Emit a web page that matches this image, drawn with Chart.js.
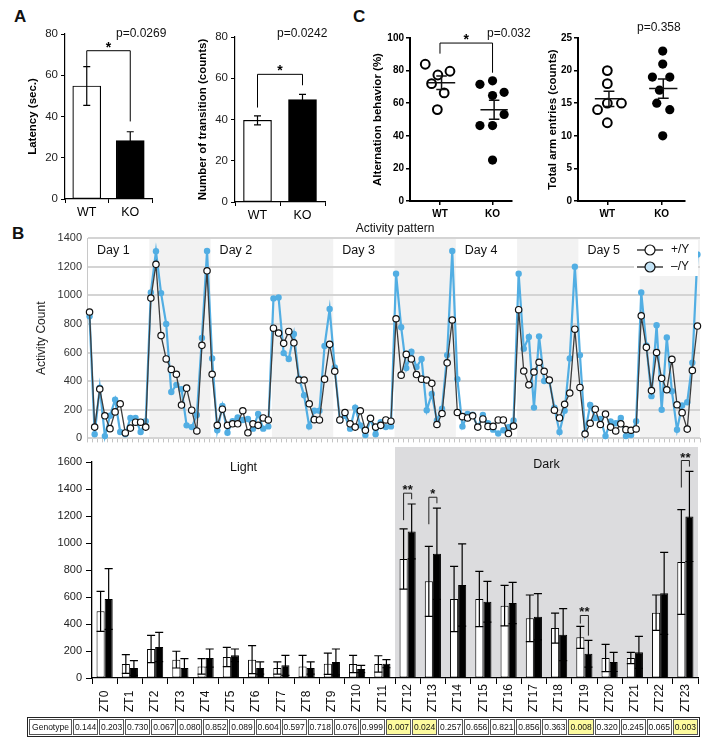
<!DOCTYPE html>
<html>
<head>
<meta charset="utf-8">
<title>Behaviour and activity pattern</title>
<script src="https://cdn.jsdelivr.net/npm/chart.js@4.4.1/dist/chart.umd.min.js"></script>
<style>
  body { margin: 0; background: #fff; }
  #fig { position: relative; width: 713px; height: 746px; overflow: hidden;
         font-family: "Liberation Sans", Arial, sans-serif; color: #111; }
  #fig canvas { position: absolute; }
  .txt { position: absolute; white-space: nowrap; line-height: 14px; }
  .panel { font-size: 17px; font-weight: bold; line-height: 20px; }
  .pval { font-size: 12px; }
  #geno { position: absolute; left: 27px; top: 717px; width: 673px; height: 20px;
          table-layout: fixed; border: 1px solid #222; border-spacing: 1px;
          font-size: 8.5px; font-family: "Liberation Sans", Arial, sans-serif; }
  #geno td { border: 1px solid #555; padding: 0; text-align: center; line-height: 14px; overflow: hidden; }
  #geno td.first { width: 41px; }
  #geno td.hi { background: #fdfb9e; }
</style>
</head>
<body>
<div id="fig">
  <div class="txt panel" style="left:14px;top:7px">A</div>
  <div class="txt panel" style="left:353px;top:7px">C</div>
  <div class="txt panel" style="left:12px;top:224px">B</div>

  <canvas id="latency" width="180" height="225" style="left:0;top:0"></canvas>
  <canvas id="transition" width="170" height="225" style="left:180px;top:0"></canvas>
  <canvas id="alternation" width="170" height="225" style="left:355px;top:0"></canvas>
  <canvas id="arms" width="188" height="225" style="left:525px;top:0"></canvas>
  <canvas id="activity" width="713" height="225" style="left:0;top:225px"></canvas>
  <canvas id="zt" width="713" height="272" style="left:0;top:447px"></canvas>

  <div class="txt pval" style="left:116px;top:26px">p=0.0269</div>
  <div class="txt pval" style="left:277px;top:26px">p=0.0242</div>
  <div class="txt pval" style="left:487px;top:26px">p=0.032</div>
  <div class="txt pval" style="left:637px;top:20px">p=0.358</div>
  <div class="txt" style="left:295px;width:200px;text-align:center;top:221px;font-size:12px">Activity pattern</div>

  <table id="geno"><tr id="genoRow"></tr></table>
</div>

<script>
// ---------- data ----------
const groups = ["WT", "KO"];

// A: latency / transitions (mean, SEM)
const latencyMean = [54.8, 28.3];
const latencyErr = [9.4, 4.3];
const transitionMean = [39.6, 49.6];
const transitionErr = [2.2, 2.6];

// C: individual animals, with horizontal jitter inside each group
const altWT = [83.9, 72.0, 77.3, 79.6, 66.3, 56.1];
const altWTJitter = [-0.28, -0.16, -0.04, 0.19, 0.08, -0.05];
const altKO = [71.6, 73.7, 66.7, 64.7, 53.1, 46.3, 46.3, 25.1];
const altKOJitter = [-0.24, 0, 0.22, 0, 0.22, -0.24, 0, 0];
const armWT = [20, 18, 14, 15, 15, 12];
const armWTJitter = [0, 0, -0.18, 0, 0.26, 0];
const armKO = [23, 21, 19, 19, 17, 15, 14, 10];
const armKOJitter = [0.02, 0.02, -0.17, 0.15, -0.04, -0.09, 0.15, 0.02];

// B top: hourly activity over 5 days
const seriesNames = ["+/Y", "\u2013/Y"];
const dayLabels = ["Day 1", "Day 2", "Day 3", "Day 4", "Day 5"];
const activityWT = [
  883, 79, 345, 158, 68, 185, 242, 38, 72, 113, 113, 79,
  980, 1216, 718, 555, 482, 448, 233, 351, 197, 52, 650, 1171,
  448, 91, 204, 91, 102, 102, 193, 39, 102, 91, 143, 129,
  770, 736, 664, 747, 668, 408, 408, 242, 131, 129, 414, 657,
  469, 129, 181, 102, 79, 193, 57, 140, 79, 91, 129, 120,
  836, 442, 587, 555, 446, 414, 408, 385, 97, 174, 528, 827,
  181, 152, 143, 158, 79, 136, 84, 84, 129, 129, 34, 86,
  899, 471, 374, 464, 532, 469, 408, 197, 143, 238, 317, 763,
  356, 30, 106, 204, 97, 170, 79, 52, 102, 61, 57, 66,
  856, 636, 334, 600, 420, 340, 552, 235, 180, 65, 475, 785
];
const activityKO = [
  854, 29, 355, 16, 158, 270, 45, 29, 142, 142, 45, 120,
  1019, 1307, 1015, 800, 324, 374, 344, 91, 79, 163, 702, 1309,
  559, 57, 226, 39, 120, 147, 129, 136, 68, 170, 68, 84,
  978, 985, 596, 555, 729, 419, 301, 84, 193, 193, 645, 904,
  495, 125, 158, 68, 215, 91, 23, 136, 29, 113, 79, 84,
  1151, 777, 491, 605, 498, 555, 197, 310, 125, 208, 582, 1309,
  414, 84, 170, 165, 79, 163, 106, 61, 34, 57, 79, 125,
  1151, 627, 709, 215, 713, 401, 401, 215, 45, 193, 559, 1200,
  582, 40, 233, 143, 136, 16, 118, 106, 143, 16, 23, 120,
  1019, 650, 295, 790, 200, 705, 330, 60, 230, 253, 528, 1285
];

// B bottom: activity per ZT hour (mean, SEM) and genotype p-values
const ztLabels = ["ZT0", "ZT1", "ZT2", "ZT3", "ZT4", "ZT5", "ZT6", "ZT7", "ZT8", "ZT9", "ZT10", "ZT11",
  "ZT12", "ZT13", "ZT14", "ZT15", "ZT16", "ZT17", "ZT18", "ZT19", "ZT20", "ZT21", "ZT22", "ZT23"];
const phaseLabels = ["Light", "Dark"];
const ztWTMean = [494, 104, 215, 136, 86, 156, 136, 74, 86, 106, 104, 104, 881, 716, 585, 585, 536, 442, 370, 301, 148, 148, 484, 859];
const ztWTErr = [148, 69, 101, 62, 57, 71, 104, 45, 82, 79, 64, 61, 223, 259, 242, 205, 150, 173, 111, 82, 101, 42, 131, 388];
const ztKOMean = [585, 74, 230, 74, 148, 168, 74, 94, 74, 119, 67, 106, 1086, 921, 689, 565, 556, 454, 321, 180, 119, 190, 627, 1197];
const ztKOErr = [225, 54, 108, 69, 67, 47, 45, 74, 45, 96, 27, 30, 203, 338, 304, 151, 153, 171, 193, 99, 71, 119, 304, 334];
const ztPValues = [0.144, 0.203, 0.730, 0.067, 0.080, 0.852, 0.089, 0.604, 0.597, 0.718, 0.076, 0.999,
  0.007, 0.024, 0.257, 0.656, 0.821, 0.856, 0.363, 0.008, 0.320, 0.245, 0.065, 0.003];

// ---------- common ----------
const fontFamily = '"Liberation Sans", Arial, sans-serif';
Chart.defaults.font.family = fontFamily;
Chart.defaults.color = "#111";
Chart.defaults.plugins.legend.display = false;
Chart.defaults.plugins.tooltip.enabled = false;

const plainNumber = v => String(v);

// error bars from dataset.errors
const errorBars = {
  id: "errorBars",
  afterDatasetsDraw(chart, args, opts) {
    const ctx = chart.ctx, y = chart.scales.y;
    chart.data.datasets.forEach((ds, di) => {
      if (!ds.errors) return;
      chart.getDatasetMeta(di).data.forEach((bar, i) => {
        const v = ds.data[i], e = ds.errors[i];
        const top = y.getPixelForValue(v + e), bot = y.getPixelForValue(v - e);
        const half = opts.cap || bar.width / 2;
        ctx.save();
        ctx.strokeStyle = "#000";
        ctx.lineWidth = 1.2;
        ctx.beginPath();
        ctx.moveTo(bar.x, top); ctx.lineTo(bar.x, bot);
        ctx.moveTo(bar.x - half, top); ctx.lineTo(bar.x + half, top);
        ctx.moveTo(bar.x - half, bot); ctx.lineTo(bar.x + half, bot);
        ctx.stroke();
        ctx.restore();
      });
    });
  }
};

// highest point of each of the two groups
function groupTops(chart) {
  const ds = chart.data.datasets;
  if (chart.config.type === "bar") {
    const meta = chart.getDatasetMeta(0);
    return ds[0].data.map((v, i) => ({ x: meta.data[i].x, hi: v + ds[0].errors[i] }));
  }
  return ds.map((d, i) => ({
    x: chart.scales.x.getPixelForValue(i + 1),
    hi: Math.max(...d.data.map(p => p.y))
  }));
}

// significance bracket between WT and KO
const pairBracket = {
  id: "pairBracket",
  afterDatasetsDraw(chart, args, o) {
    if (!o || !o.label) return;
    const [a, b] = groupTops(chart);
    const y = chart.scales.y, ctx = chart.ctx;
    const yTop = y.getPixelForValue(Math.max(a.hi, b.hi) + o.rise);
    ctx.save();
    ctx.strokeStyle = "#000";
    ctx.lineWidth = 1;
    ctx.beginPath();
    ctx.moveTo(a.x, y.getPixelForValue(a.hi + o.gapL));
    ctx.lineTo(a.x, yTop);
    ctx.lineTo(b.x, yTop);
    ctx.lineTo(b.x, y.getPixelForValue(b.hi + o.gapR));
    ctx.stroke();
    ctx.font = "bold 14px " + fontFamily;
    ctx.fillStyle = "#000";
    ctx.textAlign = "center";
    ctx.textBaseline = "alphabetic";
    ctx.fillText(o.label, (a.x + b.x) / 2, yTop + 1);
    ctx.restore();
  }
};

// mean +/- SEM lines on the scatter plots
const meanSE = {
  id: "meanSE",
  afterDatasetsDraw(chart) {
    const { ctx, scales: { x, y } } = chart;
    const unit = x.getPixelForValue(2) - x.getPixelForValue(1);
    chart.data.datasets.forEach((ds, di) => {
      const vals = ds.data.map(p => p.y);
      const n = vals.length;
      const m = vals.reduce((s, v) => s + v, 0) / n;
      const sd = Math.sqrt(vals.reduce((s, v) => s + (v - m) * (v - m), 0) / (n - 1));
      const se = sd / Math.sqrt(n);
      const cx = x.getPixelForValue(di + 1) + 0.03 * unit;
      const ym = y.getPixelForValue(m), yh = y.getPixelForValue(m + se), yl = y.getPixelForValue(m - se);
      ctx.save();
      ctx.strokeStyle = "#111";
      ctx.lineWidth = 1.5;
      ctx.beginPath();
      ctx.moveTo(cx - 0.26 * unit, ym); ctx.lineTo(cx + 0.26 * unit, ym);
      ctx.moveTo(cx - 0.1 * unit, yh); ctx.lineTo(cx + 0.1 * unit, yh);
      ctx.moveTo(cx - 0.1 * unit, yl); ctx.lineTo(cx + 0.1 * unit, yl);
      ctx.moveTo(cx, yh); ctx.lineTo(cx, yl);
      ctx.stroke();
      ctx.restore();
    });
  }
};

// ---------- panel A ----------
function groupBarChart(id, values, errors, title, titlePad, area, bracket) {
  return new Chart(document.getElementById(id), {
    type: "bar",
    data: {
      labels: groups,
      datasets: [{
        data: values, errors: errors,
        backgroundColor: ["#fff", "#000"], borderColor: "#000", borderWidth: 1.2,
        borderSkipped: false, barThickness: 28
      }]
    },
    options: {
      responsive: false,
      animation: false,
      layout: { padding: { top: area.top, right: area.right, left: 0, bottom: 0 } },
      plugins: { errorBars: { cap: 3.5 }, pairBracket: bracket },
      scales: {
        x: {
          grid: { drawOnChartArea: false, color: "#000", tickLength: 4 },
          border: { color: "#000", width: 1.2 },
          ticks: { color: "#000", font: { size: 12.5 }, padding: 2 },
          afterFit: s => { s.height = area.xh; }
        },
        y: {
          min: 0, max: 80,
          ticks: { stepSize: 20, color: "#222", font: { size: 11.5 }, padding: 3, callback: plainNumber },
          grid: { drawOnChartArea: false, color: "#000", tickLength: 4 },
          border: { color: "#000", width: 1.2 },
          title: { display: true, text: title, color: "#000",
                   font: { size: 11.5, weight: "bold" }, padding: { top: titlePad, bottom: 0 } },
          afterFit: s => { s.width = area.yw; }
        }
      }
    },
    plugins: [errorBars, pairBracket]
  });
}

groupBarChart("latency", latencyMean, latencyErr, "Latency (sec.)", 26,
  { top: 34, right: 28, xh: 26, yw: 65 }, { label: "*", gapL: 0, gapR: 5, rise: 7.7 });
groupBarChart("transition", transitionMean, transitionErr, "Number of transition (counts)", 16,
  { top: 37, right: 25, xh: 23, yw: 55 }, { label: "*", gapL: 4, gapR: 4.4, rise: 9.7 });

// ---------- panel C ----------
function groupScatter(id, wt, wtJit, ko, koJit, title, titlePad, yMax, yStep, xMin, xMax, area, bracket) {
  return new Chart(document.getElementById(id), {
    type: "scatter",
    data: {
      datasets: [
        { data: wt.map((v, i) => ({ x: 1 + wtJit[i], y: v })), pointRadius: 4.4, pointBorderWidth: 2,
          pointBackgroundColor: "#fff", pointBorderColor: "#000" },
        { data: ko.map((v, i) => ({ x: 2 + koJit[i], y: v })), pointRadius: 4.6, pointBorderWidth: 0,
          pointBackgroundColor: "#000", pointBorderColor: "#000" }
      ]
    },
    options: {
      responsive: false,
      animation: false,
      layout: { padding: { top: area.top, right: area.right, left: 0, bottom: 0 } },
      plugins: { pairBracket: bracket },
      scales: {
        x: {
          type: "linear", min: xMin, max: xMax,
          afterBuildTicks: s => { s.ticks = [{ value: 1 }, { value: 2 }]; },
          ticks: { callback: (v, i) => groups[i], color: "#000", font: { size: 10, weight: "bold" }, padding: 3 },
          grid: { drawOnChartArea: false, color: "#000", tickLength: 4, lineWidth: 1.5 },
          border: { color: "#000", width: 2 },
          afterFit: s => { s.height = area.xh; }
        },
        y: {
          min: 0, max: yMax,
          ticks: { stepSize: yStep, color: "#000", font: { size: 10, weight: "bold" }, padding: 2, callback: plainNumber },
          grid: { drawOnChartArea: false, color: "#000", tickLength: 4, lineWidth: 1.5 },
          border: { color: "#000", width: 2 },
          title: { display: true, text: title, color: "#000",
                   font: { size: 11.5, weight: "bold" }, padding: { top: titlePad, bottom: 0 } },
          afterFit: s => { s.width = area.yw; }
        }
      }
    },
    plugins: [meanSE, pairBracket]
  });
}

groupScatter("alternation", altWT, altWTJitter, altKO, altKOJitter, "Alternation behavior (%)", 16,
  100, 20, 0.43, 2.37, { top: 38, right: 13, xh: 24, yw: 55 }, { label: "*", gapL: 6.5, gapR: 5, rise: 13 });
groupScatter("arms", armWT, armWTJitter, armKO, armKOJitter, "Total arm entries (counts)", 21,
  25, 5, 0.46, 2.43, { top: 38, right: 28, xh: 24, yw: 53 }, false);

// ---------- panel B, activity pattern ----------
const activityDecor = {
  id: "activityDecor",
  beforeDraw(chart) {
    const { ctx, chartArea: { top, bottom, right }, scales: { x } } = chart;
    ctx.save();
    ctx.fillStyle = "#f2f2f2";
    dayLabels.forEach((d, i) => {
      const x0 = x.getPixelForValue(24 * i + 11.7);
      const x1 = Math.min(right, x.getPixelForValue(24 * i + 23.7));
      ctx.fillRect(x0, top, x1 - x0, bottom - top);
    });
    ctx.restore();
  },
  afterDraw(chart) {
    const { ctx, chartArea: { top, right }, scales: { x } } = chart;
    ctx.save();
    ctx.fillStyle = "#111";
    ctx.font = "12.5px " + fontFamily;
    ctx.textAlign = "left";
    ctx.textBaseline = "middle";
    dayLabels.forEach((d, i) => {
      ctx.fillText(d, x.getPixelForValue(24 * i - 0.5) + 10, top + 13);
    });
    // legend
    ctx.fillStyle = "#fff";
    ctx.fillRect(right - 66, top + 2, 64, 36);
    chart.data.datasets.forEach((ds, i) => {
      const yy = top + 12 + i * 17;
      ctx.strokeStyle = "#222";
      ctx.lineWidth = 1.3;
      ctx.beginPath();
      ctx.moveTo(right - 63, yy); ctx.lineTo(right - 37, yy);
      ctx.stroke();
      ctx.beginPath();
      ctx.arc(right - 50, yy, 5, 0, 2 * Math.PI);
      ctx.fillStyle = ds.legendFill;
      ctx.fill();
      ctx.lineWidth = 1.2;
      ctx.strokeStyle = "#111";
      ctx.stroke();
      ctx.fillStyle = "#111";
      ctx.font = "12px " + fontFamily;
      ctx.fillText(ds.label, right - 29, yy);
    });
    ctx.restore();
  }
};

new Chart(document.getElementById("activity"), {
  type: "line",
  data: {
    datasets: [
      { label: seriesNames[0], legendFill: "#fff",
        data: activityWT.map((v, i) => ({ x: i, y: v })),
        borderColor: "#3c3c3c", borderWidth: 1.3, pointRadius: 3.2,
        pointBackgroundColor: "#fff", pointBorderColor: "#111", pointBorderWidth: 1.2, clip: false },
      { label: seriesNames[1], legendFill: "#c3e4f7",
        data: activityKO.map((v, i) => ({ x: i, y: v })),
        borderColor: "#52aee3", borderWidth: 2.2, pointRadius: 3.2,
        pointBackgroundColor: "#52aee3", pointBorderWidth: 0, clip: false }
    ]
  },
  options: {
    responsive: false,
    animation: false,
    layout: { padding: { top: 13, right: 13, left: 0, bottom: 0 } },
    scales: {
      x: {
        type: "linear", min: -0.5, max: 119.5,
        ticks: { display: false, stepSize: 1 },
        grid: { drawOnChartArea: false, color: "#c4c4c4", tickLength: 4 },
        border: { display: false },
        afterFit: s => { s.height = 7; }
      },
      y: {
        min: 0, max: 1400,
        ticks: { stepSize: 200, color: "#333", font: { size: 11 }, padding: 5, callback: plainNumber },
        grid: { color: "#d4d4d4", lineWidth: 2, drawTicks: false },
        border: { color: "#c8c8c8" },
        title: { display: true, text: "Activity Count", color: "#222",
                 font: { size: 12 }, padding: { top: 34, bottom: 0 } },
        afterFit: s => { s.width = 87; }
      }
    }
  },
  plugins: [activityDecor]
});

// ---------- panel B, ZT bars ----------
const ztDecor = {
  id: "ztDecor",
  beforeDraw(chart) {
    const { ctx, chartArea: { top, bottom, left, right }, scales: { x } } = chart;
    const xd = x.getPixelForValue(11.5);
    ctx.save();
    ctx.fillStyle = "#dcdcde";
    ctx.fillRect(xd, 0, right - xd, bottom);
    ctx.fillStyle = "#111";
    ctx.font = "12.5px " + fontFamily;
    ctx.textAlign = "center";
    ctx.textBaseline = "middle";
    ctx.fillText(phaseLabels[0], (left + xd) / 2, top + 6);
    ctx.fillText(phaseLabels[1], (xd + right) / 2, top + 3);
    ctx.restore();
  },
  afterDraw(chart) {
    const { ctx, chartArea, scales: { x, y } } = chart;
    ctx.save();
    ctx.fillStyle = "#111";
    ctx.font = "12px " + fontFamily;
    ctx.textAlign = "left";
    ctx.textBaseline = "middle";
    ztLabels.forEach((lab, i) => {
      ctx.save();
      ctx.translate(x.getPixelForValue(i), chartArea.bottom + 34);
      ctx.rotate(-Math.PI / 2);
      ctx.fillText(lab, 0, 0);
      ctx.restore();
    });
    const wtMeta = chart.getDatasetMeta(0), koMeta = chart.getDatasetMeta(1);
    ztPValues.forEach((p, i) => {
      if (p >= 0.05) return;
      const wtTop = ztWTMean[i] + ztWTErr[i], koTop = ztKOMean[i] + ztKOErr[i];
      const top = Math.max(wtTop, koTop) + 80;
      const leftEnd = Math.max(wtTop + 20, top - 200), rightEnd = koTop + 35;
      const x0 = wtMeta.data[i].x, x1 = koMeta.data[i].x;
      ctx.strokeStyle = "#222";
      ctx.lineWidth = 1;
      ctx.beginPath();
      ctx.moveTo(x0, y.getPixelForValue(leftEnd));
      ctx.lineTo(x0, y.getPixelForValue(top));
      ctx.lineTo(x1, y.getPixelForValue(top));
      ctx.lineTo(x1, y.getPixelForValue(rightEnd));
      ctx.stroke();
      ctx.font = "bold 13px " + fontFamily;
      ctx.textAlign = "center";
      ctx.textBaseline = "alphabetic";
      ctx.fillText(p < 0.01 ? "**" : "*", (x0 + x1) / 2, y.getPixelForValue(top) + 1);
    });
    ctx.restore();
  }
};

new Chart(document.getElementById("zt"), {
  type: "bar",
  data: {
    labels: ztLabels,
    datasets: [
      { label: "WT", data: ztWTMean, errors: ztWTErr, backgroundColor: "#fff", borderColor: "#000",
        borderWidth: 1, borderSkipped: false, categoryPercentage: 0.64, barPercentage: 1 },
      { label: "KO", data: ztKOMean, errors: ztKOErr, backgroundColor: "#000", borderColor: "#000",
        borderWidth: 1, categoryPercentage: 0.64, barPercentage: 1 }
    ]
  },
  options: {
    responsive: false,
    animation: false,
    layout: { padding: { top: 15, right: 15, left: 0, bottom: 0 } },
    plugins: { errorBars: {} },
    scales: {
      x: {
        grid: { offset: true, drawOnChartArea: false, color: "#000", tickLength: 6 },
        border: { color: "#000", width: 1.3 },
        ticks: { display: false },
        afterFit: s => { s.height = 41; }
      },
      y: {
        min: 0, max: 1600,
        ticks: { stepSize: 200, color: "#222", font: { size: 11 }, padding: 4, callback: plainNumber },
        grid: { drawOnChartArea: false, color: "#000", tickLength: 6 },
        border: { color: "#000", width: 1.3 },
        afterFit: s => { s.width = 92; }
      }
    }
  },
  plugins: [errorBars, ztDecor]
});

// ---------- genotype p-value table ----------
const row = document.getElementById("genoRow");
row.innerHTML = '<td class="first">Genotype</td>' +
  ztPValues.map(p => '<td' + (p < 0.05 ? ' class="hi"' : '') + '>' + p.toFixed(3) + '</td>').join("");
</script>
</body>
</html>
